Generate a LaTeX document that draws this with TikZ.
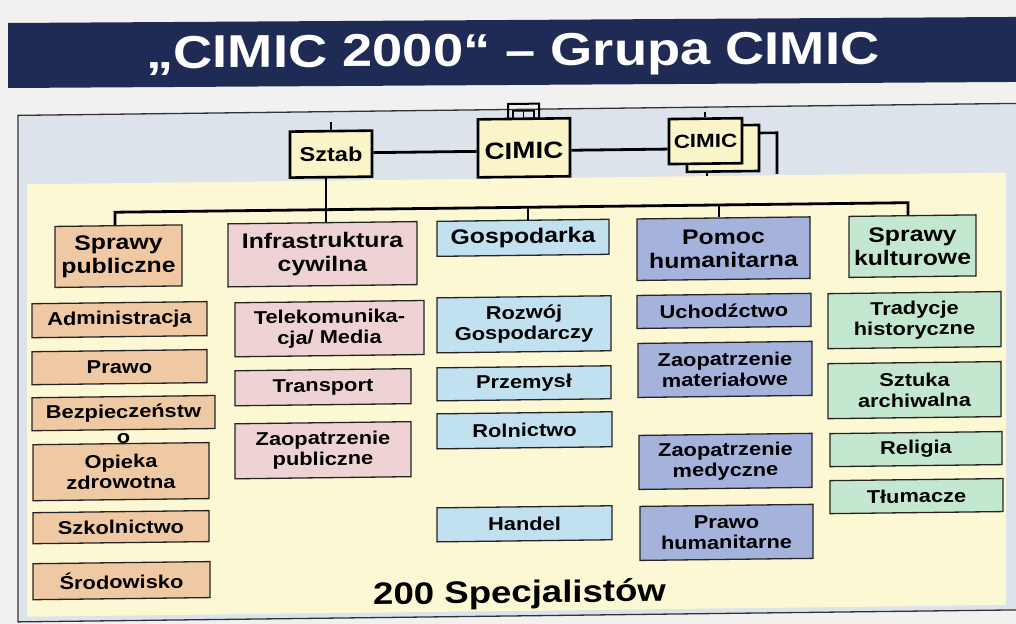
\documentclass[tikz,border=0pt]{standalone}
\usepackage{fontspec}
\setmainfont{Liberation Sans}[FakeStretch=1.18]
\usetikzlibrary{calc}

\definecolor{pagebg}{HTML}{F1F2F0}
\definecolor{titlebar}{HTML}{1F2B55}
\definecolor{framebg}{HTML}{DCE3EA}
\definecolor{yellowbg}{HTML}{FBF8D3}
\definecolor{topfill}{HTML}{F9F5C9}
\definecolor{boxline}{HTML}{252525}
\definecolor{cpub}{HTML}{EFC9A3}
\definecolor{cinf}{HTML}{EFD2D3}
\definecolor{cgos}{HTML}{C2E1F0}
\definecolor{cpom}{HTML}{A4B2DC}
\definecolor{ckul}{HTML}{C4E8CF}

\tikzset{
  box/.style={draw=boxline, line width=1.3pt, inner sep=0pt, align=center, text=black},
  head/.style={box, font=\fontsize{21}{23.5}\selectfont\bfseries},
  sub/.style={box, font=\fontsize{18.5}{20.5}\selectfont\bfseries},
  topbox/.style={draw=black, line width=2.6pt, fill=topfill, inner sep=0pt, text=black},
  wire/.style={line width=2.8pt, draw=black},
  frameline/.style={line width=1.3pt, draw=black!80},
}

% \bx{name}{x1}{y1}{x2}{y2}{style}{text}: a box given by its corners
\newcommand\bx[7]{%
  \node[#6, minimum width={#4pt-#2pt}, minimum height={#5pt-#3pt}]
    (#1) at ({(#2+#4)/2},{(#3+#5)/2}) {#7};}

\begin{document}
\begin{tikzpicture}[x=1pt, y=-1pt]
\useasboundingbox (0,0) rectangle (1016,623);
\clip (0,0) rectangle (1016,623);
\fill[pagebg] (-20,-20) rectangle (1040,650);

% title bar
\begin{scope}[shift={(508,52)}, yslant=0.006, shift={(-508,-52)}, transform shape]
\fill[titlebar] (8,20) rectangle (1060,85);
\node[anchor=base, text=white, inner sep=0pt,
      font=\fontsize{46}{50}\selectfont\bfseries] (title) at (513,66)
  {„CIMIC 2000“ – Grupa CIMIC};
\end{scope}

\begin{scope}[shift={(508,311)}, yslant=0.012, shift={(-508,-311)}, transform shape]

% frame and coloured panels
\fill[framebg] (18,109.5) rectangle (1060,616);
\draw[frameline] (1060,109.5) -- (18,109.5) -- (18,616) -- (1060,616);
\fill[yellowbg] (27,178.5) rectangle (1006,611);

% command level
\bx{sztab}{290}{129}{372}{175}{topbox, font=\fontsize{20}{22}\selectfont\bfseries}{Sztab}
\bx{cimic}{478}{119}{570}{177}{topbox, font=\fontsize{23.5}{25}\selectfont\bfseries, text depth=0pt, text height=22pt}{CIMIC}
% small cap on the central CIMIC box
\draw[line width=2pt] (508,104) rectangle (539,119);
\draw[line width=1.6pt] (513,119) -- (513,111) -- (534,111) -- (534,119);
\draw[line width=1.6pt] (523.5,111) -- (523.5,119);

% stacked CIMIC groups
\draw[line width=2.6pt] (759,136) -- (777,136) -- (777,177);
\bx{rc2}{687}{128}{759}{174}{topbox}{}
\draw[line width=2.6pt] (707,174) -- (707,178);
\bx{rc}{669}{121}{742}{166}{topbox, font=\fontsize{19}{21}\selectfont\bfseries}{CIMIC}

% stubs above the command boxes
\coordinate (stubS) at (331,120);
\coordinate (stubR) at (705,114);
\draw[wire] (stubS) -- (stubS |- sztab.north);
\draw[wire] (stubR) -- (stubR |- rc.north);

% links between the command boxes
\coordinate (hl) at (0,151);
\draw[wire] (sztab.east |- hl) -- (cimic.west |- hl);
\draw[wire] (cimic.east |- hl) -- (rc.west |- hl);

% functional areas
\bx{pub}{55}{221}{182}{282}{head, fill=cpub}{Sprawy\\publiczne}
\bx{inf}{228}{220.5}{417}{283.5}{head, fill=cinf}{Infrastruktura\\cywilna}
\bx{gos}{437}{220.5}{609}{255.5}{head, fill=cgos}{Gospodarka}
\bx{pom}{637}{220.5}{810}{282}{head, fill=cpom}{Pomoc\\humanitarna}
\bx{kul}{849}{220.5}{976}{281.5}{head, fill=ckul}{Sprawy\\kulturowe}

% distribution bus
\coordinate (d1) at (115,207.5);
\coordinate (d2) at (326,207.5);
\coordinate (d3) at (528,207.5);
\coordinate (d4) at (719,207.5);
\coordinate (d5) at (908,207.5);
\draw[wire, line join=miter] (d1 |- pub.north) -- (d1) -- (d5) -- (d5 |- kul.north);
\draw[wire] (d2 |- sztab.south) -- (d2 |- inf.north);
\draw[wire] (d3) -- (d3 |- gos.north);
\draw[wire] (d4) -- (d4 |- pom.north);

% public affairs
\bx{adm}{32}{298}{207}{332}{sub, fill=cpub}{Administracja}
\bx{praw}{32}{346}{207}{379}{sub, fill=cpub}{Prawo}
\bx{bezp}{32}{392}{215}{425}{sub, fill=cpub}{Bezpieczeństw}
\node[anchor=north, inner sep=0pt, font=\fontsize{18.5}{20.5}\selectfont\bfseries]
  (bezo) at ([yshift=-3pt]bezp.south) {o};
\bx{opie}{33}{439}{209}{495}{sub, fill=cpub}{Opieka\\zdrowotna}
\bx{szko}{33}{507}{209}{538}{sub, fill=cpub}{Szkolnictwo}
\bx{srod}{33}{558}{210}{594}{sub, fill=cpub}{Środowisko}

% civil infrastructure
\bx{tele}{235}{299.5}{424}{353.5}{sub, fill=cinf}{Telekomunika-\\cja/ Media}
\bx{tran}{235}{367.5}{411}{402.5}{sub, fill=cinf}{Transport}
\bx{zpub}{235}{420.5}{411}{475.5}{sub, fill=cinf}{Zaopatrzenie\\publiczne}

% economy
\bx{rozw}{437}{297}{611}{352}{sub, fill=cgos}{Rozwój\\Gospodarczy}
\bx{prze}{437}{367}{611}{400}{sub, fill=cgos}{Przemysł}
\bx{roln}{437}{413}{612}{448}{sub, fill=cgos}{Rolnictwo}
\bx{hand}{437}{507}{612}{541}{sub, fill=cgos}{Handel}

% humanitarian aid
\bx{uch}{637}{297}{811}{330}{sub, fill=cpom}{Uchodźctwo}
\bx{zmat}{638}{345}{812}{399}{sub, fill=cpom}{Zaopatrzenie\\materiałowe}
\bx{zmed}{639}{437}{812}{491}{sub, fill=cpom}{Zaopatrzenie\\medyczne}
\bx{phum}{640}{508}{813}{562}{sub, fill=cpom}{Prawo\\humanitarne}

% cultural affairs
\bx{trad}{828}{297.5}{1001}{352.5}{sub, fill=ckul}{Tradycje\\historyczne}
\bx{szt}{828}{367.5}{1001}{422.5}{sub, fill=ckul}{Sztuka\\archiwalna}
\bx{rel}{830}{437.5}{1002}{470.5}{sub, fill=ckul}{Religia}
\bx{tlu}{830}{484.5}{1003}{517.5}{sub, fill=ckul}{Tłumacze}

% headcount
\node[anchor=base west, inner sep=0pt, font=\fontsize{31}{34}\selectfont\bfseries]
  (spec) at (373,603) {200 Specjalistów};

\end{scope}
\end{tikzpicture}
\end{document}
